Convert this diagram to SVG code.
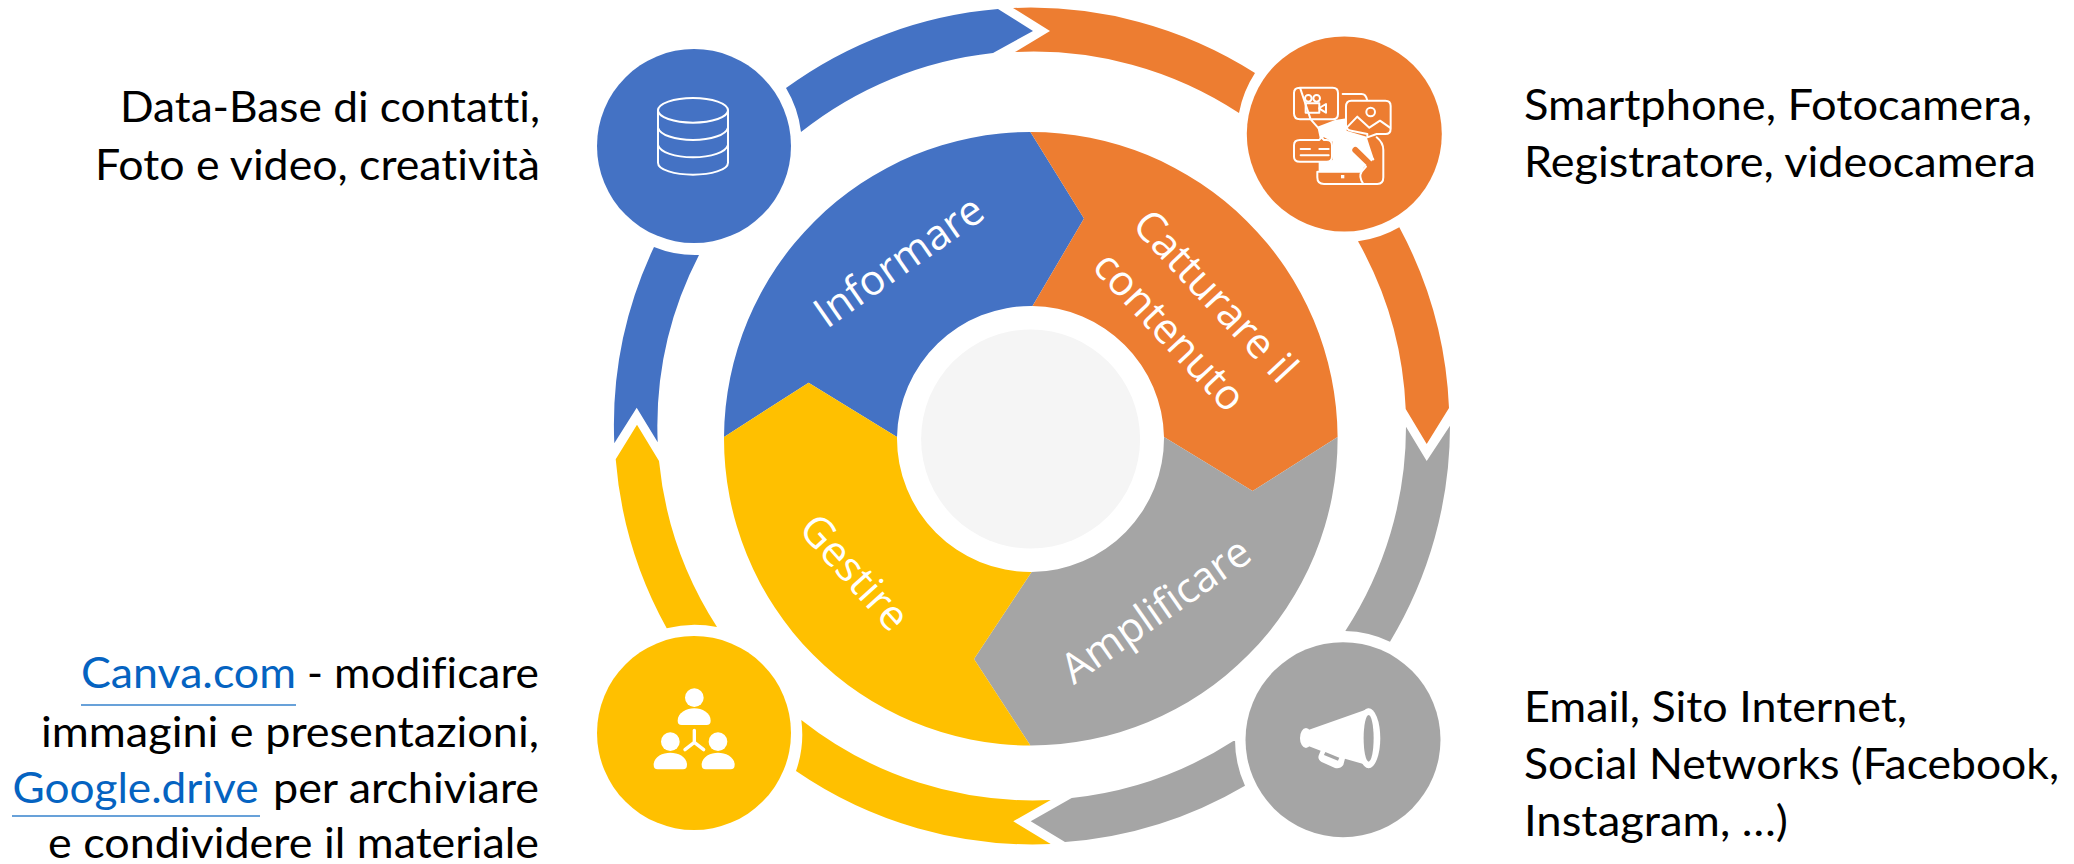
<svg xmlns="http://www.w3.org/2000/svg" width="2074" height="864" viewBox="0 0 2074 864">
<style>
.side{font-family:Lato,"Liberation Sans",sans-serif;font-size:43px;fill:#000;font-variant-ligatures:none}
.link{fill:#0563C1}
.ul{stroke:#0563C1;stroke-width:1.6;opacity:.8}
.lab{font-family:"Open Sans","Noto Sans",sans-serif;font-size:41.8px;fill:#fff;text-anchor:middle;font-variant-ligatures:none}
.blue{fill:#4472C4}.orange{fill:#ED7D31}.gray{fill:#A5A5A5}.yellow{fill:#FFC000}
.ln{fill:none;stroke:#fff;stroke-linecap:round;stroke-linejoin:round}
.w{fill:#fff}
</style>
<rect width="2074" height="864" fill="#fff"/>
<g id="connectors">
<path class="blue" d="M786,88A418,418 0 0 1 998,9L1033,31L993,53A374,374 0 0 0 801,132A109,109 0 0 0 786,88Z"/>
<path class="blue" d="M654,247A418,418 0 0 0 614.3,443.3L636.7,407.7L657.7,442.3A374,374 0 0 1 699,255A109,109 0 0 1 654,247Z"/>
<path class="orange" d="M1013,8A418,418 0 0 1 1255,73A109,109 0 0 0 1239,113A374,374 0 0 0 1015,52L1050,31Z"/>
<path class="orange" d="M1399.3,227.3A418,418 0 0 1 1449,408L1426.7,444L1405.7,409A374,374 0 0 0 1358,241.3A109,109 0 0 0 1399.3,227.3Z"/>
<path class="gray" d="M1450,425.7A418,418 0 0 1 1390,641.7A109,109 0 0 0 1345.3,631A374,374 0 0 0 1406,426.7L1426.7,461Z"/>
<path class="gray" d="M1245,785.7A418,418 0 0 1 1065,842L1030.7,821.3L1071.7,798A374,374 0 0 0 1235,740A109,109 0 0 0 1245,785.7Z"/>
<path class="yellow" d="M796,771A418,418 0 0 0 1050.7,844L1013.3,821.3L1050.7,800A374,374 0 0 1 801.3,720A109,109 0 0 1 796,771Z"/>
<path class="yellow" d="M666.7,628.3A418,418 0 0 1 615.7,459.3L637,424.7L659,461A374,374 0 0 0 717,627A109,109 0 0 0 666.7,628.3Z"/>
</g>
<g id="seg-informare">
<path class="blue" d="M724,437A307,307 0 0 1 1030.4,132L1084,218.6L1032.5,306A133.6,133.6 0 0 0 897,437L808.6,382.7Z"/>
<text class="lab" transform="translate(907,273) rotate(-35)">Informare</text>
</g>
<g id="seg-catturare">
<path class="orange" d="M1030.4,132A307,307 0 0 1 1337.6,437L1252.6,491L1164,437A133.6,133.6 0 0 0 1032.5,306L1084,218.6Z"/>
<text class="lab" transform="translate(1205,306) rotate(47)">Catturare il</text>
<text class="lab" transform="translate(1159,341) rotate(47)">contenuto</text>
</g>
<g id="seg-amplificare">
<path class="gray" d="M1337.6,437A307,307 0 0 1 1030.4,745.5L974,659L1031.6,572A133.6,133.6 0 0 0 1164,437L1252.6,491Z"/>
<text class="lab" transform="translate(1164,622) rotate(-35)">Amplificare</text>
</g>
<g id="seg-gestire">
<path class="yellow" d="M1030.4,745.5A307,307 0 0 1 724,437L808.6,382.7L897,437A133.6,133.6 0 0 0 1031.6,572L974,659Z"/>
<text class="lab" transform="translate(844,582) rotate(48)">Gestire</text>
</g>
<g id="hub">
<circle cx="1030.6" cy="439" r="109.5" fill="#F5F5F5"/>
</g>
<g id="node-database">
<circle class="blue" cx="694" cy="146" r="97"/>
<g class="ln" stroke-width="6" transform="translate(580,0) scale(.3333)">
<ellipse cx="339" cy="331" rx="105" ry="37"/>
<path d="M234,331V488C234,510 285,524 339,524S444,510 444,488V331"/>
<path d="M234,383C240,405 285,420 339,420S438,405 444,383"/>
<path d="M234,435C240,457 285,472 339,472S438,457 444,435"/>
</g>
<text class="side" x="540" y="122" text-anchor="end" textLength="420" lengthAdjust="spacingAndGlyphs">Data-Base di contatti,</text>
<text class="side" x="540" y="180" text-anchor="end" textLength="445" lengthAdjust="spacingAndGlyphs">Foto e video, creatività</text>
</g>
<g id="node-capture">
<circle class="orange" cx="1344.3" cy="134" r="97.5"/>
<g transform="translate(1220,60) scale(.3333)">
<path class="w" d="M292,200L345,180L380,175L380,212L440,230L450,262L462,298L432,322L425,335L296,335L296,306L338,300L338,245L312,232L300,238Z"/>
<g class="ln" stroke-width="6">
<path d="M240,83H338Q354,83 354,99V162Q354,178 338,178H272L296,205M272,178H240Q222,178 222,160V99Q222,83 240,83Z"/>
<circle cx="265" cy="115" r="10"/><circle cx="290" cy="115" r="10"/>
<rect x="257" y="130" width="41" height="28"/>
<path d="M298,144L318,132V158L298,146"/>
<path d="M368,102H425Q438,102 442,122"/>
<path class="orange" style="stroke:#fff" d="M378,140Q378,122 394,122H496Q512,122 512,138V206Q512,222 496,222H470L442,232V222L394,212Q378,210 378,195Z"/>
<path d="M378,205L412,170L448,203L480,182L510,203"/>
<circle cx="452" cy="156" r="13"/>
<path class="orange" style="stroke:#fff" d="M240,240H298L304,232L312,240H320Q336,240 336,256V290Q336,305 320,305H240Q222,305 222,290V256Q222,240 240,240Z"/>
<path d="M242,267H270M298,267H326M242,286H326"/>
<path d="M292,335V352Q292,372 312,372H472Q490,372 490,352V270Q490,248 470,232"/>
<path d="M296,335H420"/>
<path d="M430,372Q415,350 425,335L438,320"/>
</g>
<path d="M406,270L445,308" fill="none" stroke="#ED7D31" stroke-width="18" stroke-linecap="round"/>
<path class="ln" stroke-width="6" d="M418,262L460,298"/>
<rect class="w" x="363" y="345" width="10" height="10"/>
</g>
<text class="side" x="1524" y="120" textLength="508" lengthAdjust="spacingAndGlyphs">Smartphone, Fotocamera,</text>
<text class="side" x="1524" y="177" textLength="512" lengthAdjust="spacingAndGlyphs">Registratore, videocamera</text>
</g>
<g id="node-promote">
<circle class="gray" cx="1343" cy="739.7" r="97.5"/>
<g transform="translate(1000,600) scale(.3333)">
<path class="w" d="M925,390L1095,330Q1105,322 1115,330L1105,505Q1095,500 1090,492L1035,476L1030,495Q1020,508 1005,504L965,486Q950,478 958,462L962,452L925,438Z"/>
<ellipse class="w" cx="918" cy="414" rx="18" ry="30"/>
<ellipse class="w" cx="1106" cy="415" rx="35" ry="90"/>
<ellipse class="gray" cx="1106" cy="415" rx="15" ry="70"/>
<path class="gray" d="M976,456L1018,473L1014,482L972,465Z"/>
</g>
<text class="side" x="1524" y="722" textLength="383" lengthAdjust="spacingAndGlyphs">Email, Sito Internet,</text>
<text class="side" x="1524" y="779" textLength="535" lengthAdjust="spacingAndGlyphs">Social Networks (Facebook,</text>
<text class="side" x="1524" y="836" textLength="264" lengthAdjust="spacingAndGlyphs">Instagram, …)</text>
</g>
<g id="node-manage">
<circle class="yellow" cx="694" cy="733" r="97"/>
<g transform="translate(580,600) scale(.3333)">
<circle class="w" cx="343" cy="293" r="28"/>
<path class="w" d="M293,362C293,338 320,325 343,325S392,338 392,362Q392,375 380,375H305Q293,375 293,362Z"/>
<circle class="w" cx="271" cy="425" r="28"/>
<path class="w" d="M221,494C221,470 248,458 271,458S321,470 321,494Q321,508 309,508H233Q221,508 221,494Z"/>
<circle class="w" cx="414" cy="425" r="28"/>
<path class="w" d="M365,494C365,470 392,458 414,458S464,470 464,494Q464,508 452,508H377Q365,508 365,494Z"/>
<path class="ln" stroke-width="10" d="M343,391V427M343,427L315,449M343,427L371,449"/>
</g>
<text class="side link" x="81" y="688" textLength="215" lengthAdjust="spacingAndGlyphs">Canva.com</text>
<line class="ul" x1="81" y1="705" x2="296" y2="705"/>
<text class="side" x="307" y="688">-</text>
<text class="side" x="539" y="688" text-anchor="end" textLength="205" lengthAdjust="spacingAndGlyphs">modificare</text>
<text class="side" x="539" y="747" text-anchor="end" textLength="498" lengthAdjust="spacingAndGlyphs">immagini e presentazioni,</text>
<text class="side link" x="12.5" y="803" textLength="246" lengthAdjust="spacingAndGlyphs">Google.drive</text>
<line class="ul" x1="12" y1="816" x2="260" y2="816"/>
<text class="side" x="539" y="803" text-anchor="end" textLength="266" lengthAdjust="spacingAndGlyphs">per archiviare</text>
<text class="side" x="539" y="858" text-anchor="end" textLength="491" lengthAdjust="spacingAndGlyphs">e condividere il materiale</text>
</g>
</svg>
